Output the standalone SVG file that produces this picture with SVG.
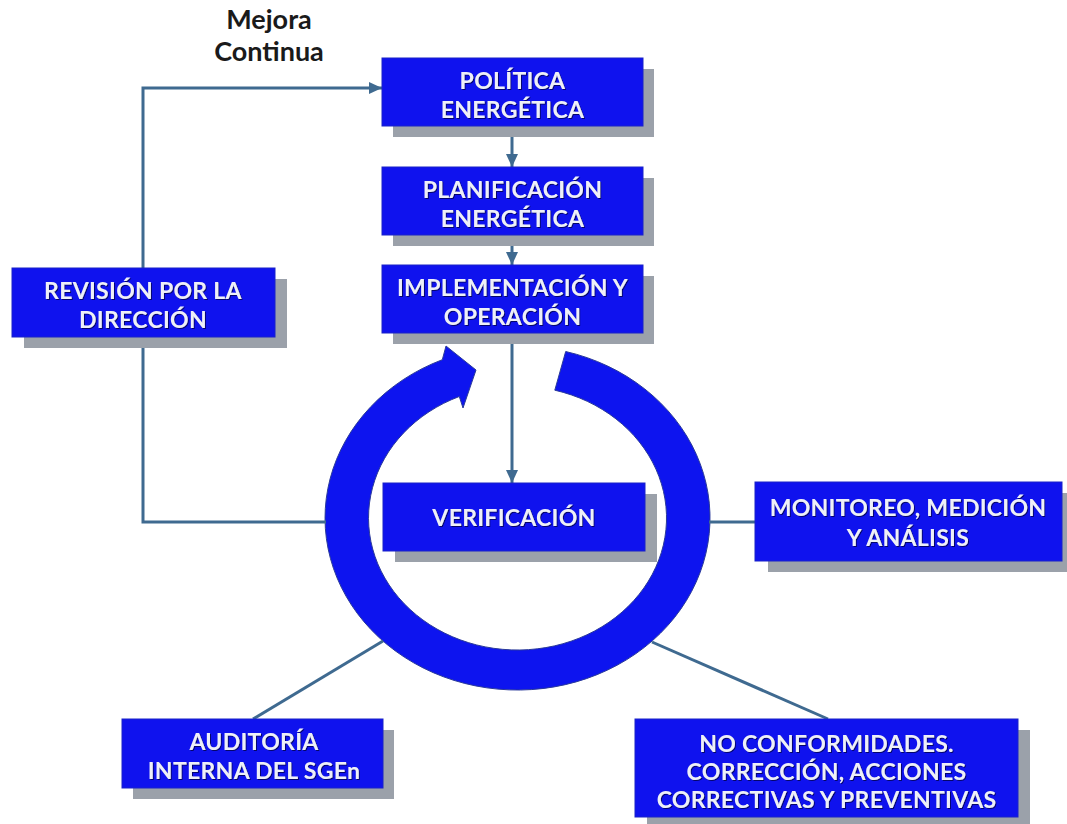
<svg xmlns="http://www.w3.org/2000/svg" width="1067" height="824" viewBox="0 0 1067 824">
  <defs>
    <marker id="ah" markerUnits="userSpaceOnUse" markerWidth="14" markerHeight="14" viewBox="0 0 14 14" refX="13" refY="7" orient="auto">
      <path d="M0,1 L13,7 L0,13 Z" fill="#3f6a90"/>
    </marker>
    <filter id="ts" x="-10%" y="-30%" width="120%" height="160%">
      <feDropShadow dx="1" dy="1" stdDeviation="0.6" flood-color="#000030" flood-opacity="0.7"/>
    </filter>
  </defs>
  <style>
    .box { fill: #0f12ee; stroke: #1a22c8; stroke-width: 1; }
    .sh { fill: #9ba1aa; }
    .lbl { font-family: Lato, "Open Sans", "Liberation Sans", sans-serif; font-weight: bold; font-size: 23px; letter-spacing: 0.3px; fill: #eef0f8; text-anchor: middle; filter: url(#ts); }
    .title { font-family: Lato, "Open Sans", "Liberation Sans", sans-serif; font-weight: bold; font-size: 27px; fill: #1a1a1a; text-anchor: middle; }
    .con { fill: none; stroke: #3f6a90; stroke-width: 3; }
    .ring { fill: #0d14ef; stroke: #2a3a9a; stroke-width: 1; }
  </style>
  <rect width="1067" height="824" fill="#ffffff"/>

  <g id="title">
    <text class="title" x="269" y="29">Mejora</text>
    <text class="title" x="269" y="61">Continua</text>
  </g>

  <g id="ring">
    <path class="ring" d="M 565.7 351.5 A 192.5 172 0 1 1 442.3 359.7 L 446 346 L 476 370 L 463 408 L 459.3 396.5 A 149 132 0 1 0 554.8 390.2 Z"/>
  </g>

  <g id="connectors">
    <path class="con" d="M 143 268 V 88 H 382" marker-end="url(#ah)"/>
    <path class="con" d="M 143 337 V 522 H 326"/>
    <path class="con" d="M 512 126 V 167" marker-end="url(#ah)"/>
    <path class="con" d="M 512 235 V 265" marker-end="url(#ah)"/>
    <path class="con" d="M 512 333 V 483" marker-end="url(#ah)"/>
    <path class="con" d="M 709 522 H 755"/>
    <path class="con" d="M 383 641 L 253 719"/>
    <path class="con" d="M 652 642 L 828 719"/>
  </g>

  <g id="politica">
    <rect class="sh" x="393" y="69" width="261" height="68"/>
    <rect class="box" x="382" y="58" width="261" height="68"/>
    <text class="lbl" x="512.5" y="89">POLÍTICA</text>
    <text class="lbl" x="512.5" y="118">ENERGÉTICA</text>
  </g>

  <g id="planificacion">
    <rect class="sh" x="393" y="178" width="261" height="68"/>
    <rect class="box" x="382" y="167" width="261" height="68"/>
    <text class="lbl" x="512.5" y="198">PLANIFICACIÓN</text>
    <text class="lbl" x="512.5" y="227">ENERGÉTICA</text>
  </g>

  <g id="implementacion">
    <rect class="sh" x="393" y="276" width="261" height="68"/>
    <rect class="box" x="382" y="265" width="261" height="68"/>
    <text class="lbl" x="512.5" y="296">IMPLEMENTACIÓN Y</text>
    <text class="lbl" x="512.5" y="325">OPERACIÓN</text>
  </g>

  <g id="revision">
    <rect class="sh" x="24" y="279" width="263" height="69"/>
    <rect class="box" x="12" y="268" width="263" height="69"/>
    <text class="lbl" x="143" y="299">REVISIÓN POR LA</text>
    <text class="lbl" x="143" y="328">DIRECCIÓN</text>
  </g>

  <g id="verificacion">
    <rect class="sh" x="395" y="494" width="262" height="68"/>
    <rect class="box" x="383" y="483" width="262" height="68"/>
    <text class="lbl" x="514" y="526">VERIFICACIÓN</text>
  </g>

  <g id="monitoreo">
    <rect class="sh" x="768" y="493" width="307" height="79"/>
    <rect class="box" x="755" y="482" width="307" height="79"/>
    <text class="lbl" x="908" y="516">MONITOREO, MEDICIÓN</text>
    <text class="lbl" x="908" y="546">Y ANÁLISIS</text>
  </g>

  <g id="auditoria">
    <rect class="sh" x="133" y="730" width="261" height="69"/>
    <rect class="box" x="122" y="719" width="261" height="69"/>
    <text class="lbl" x="254" y="750">AUDITORÍA</text>
    <text class="lbl" x="254" y="779">INTERNA DEL SGEn</text>
  </g>

  <g id="noconformidades">
    <rect class="sh" x="647" y="730" width="383" height="98"/>
    <rect class="box" x="635" y="719" width="383" height="98"/>
    <text class="lbl" x="826.5" y="752">NO CONFORMIDADES.</text>
    <text class="lbl" x="826.5" y="780">CORRECCIÓN, ACCIONES</text>
    <text class="lbl" x="826.5" y="808">CORRECTIVAS Y PREVENTIVAS</text>
  </g>
</svg>
